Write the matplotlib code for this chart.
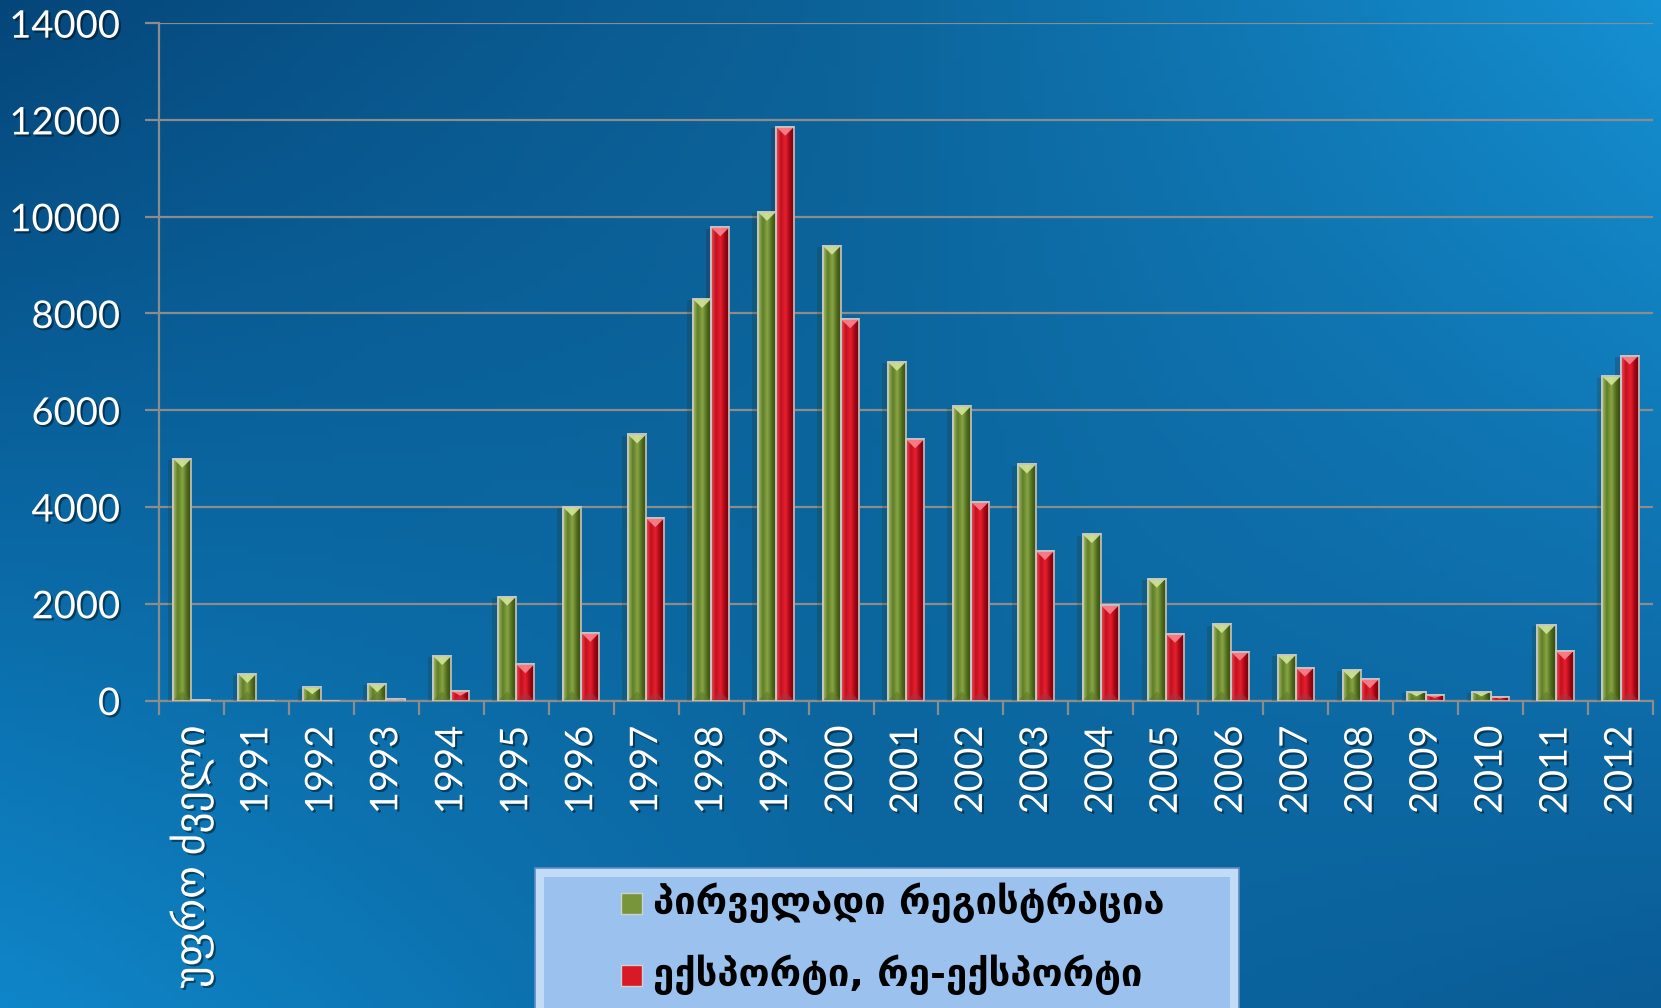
import numpy as np
import matplotlib.pyplot as plt
import matplotlib.patheffects as pe
from matplotlib.colors import LinearSegmentedColormap, to_rgb
from matplotlib.patches import Rectangle, Polygon

plt.rcParams['font.family'] = ['Lato', 'DejaVu Sans']

categories = ['უფრო ძველი', '1991', '1992', '1993', '1994', '1995', '1996',
              '1997', '1998', '1999', '2000', '2001', '2002', '2003', '2004',
              '2005', '2006', '2007', '2008', '2009', '2010', '2011', '2012']
primary = [5000, 550, 270, 350, 920, 2150, 4000, 5500, 8300, 10100, 9400,
           7000, 6080, 4880, 3440, 2520, 1580, 940, 630, 180, 180, 1560, 6700]
export = [20, 0, 0, 30, 200, 750, 1400, 3770, 9780, 11860, 7880,
          5400, 4110, 3090, 1970, 1380, 1010, 680, 440, 110, 80, 1030, 7130]
series_names = ['პირველადი რეგისტრაცია', 'ექსპორტი, რე-ექსპორტი']
yticks = [0, 2000, 4000, 6000, 8000, 10000, 12000, 14000]

W, H = 1661, 1008
fig = plt.figure(figsize=(W / 100, H / 100), dpi=100)

# background: four-corner blue blend
bg = fig.add_axes([0, 0, 1, 1], zorder=-5)
tl, tr = np.array(to_rgb('#05467a')), np.array(to_rgb('#1590d2'))
bl, br = np.array(to_rgb('#0f86c9')), np.array(to_rgb('#0a5c96'))
u = np.linspace(0, 1, 200)[None, :, None]
v = np.linspace(0, 1, 120)[:, None, None]
img = (1 - v) * ((1 - u) * tl + u * tr) + v * ((1 - u) * bl + u * br)
img = img * (0.92 + 0.08 * np.abs(u - 0.5) * 2)
bg.imshow(np.clip(img, 0, 1), aspect='auto', extent=[0, 1, 0, 1])
bg.axis('off')

ax = fig.add_axes([0.0957, 0.305, 0.8995, 0.672])
ax.set_facecolor('none')

grey = '#8c8c8c'
shadow = [pe.SimplePatchShadow(offset=(-4, -1), alpha=0.2), pe.Normal()]
green_cmap = LinearSegmentedColormap.from_list(
    'g', ['#a6bd66', '#5f7d25', '#88a646', '#4d691b', '#33470f'])
red_cmap = LinearSegmentedColormap.from_list(
    'r', ['#f0505c', '#c20f1d', '#e6202f', '#9e0612', '#6a000a'])
grad = np.linspace(0, 1, 64)[None, :]

bw = 0.28
x = np.arange(len(categories))
px = 14000 / (0.672 * H)  # data units per pixel in y

def draw_bars(xpos, vals, cmap, tip, base):
    bars = ax.bar(xpos, vals, bw, color=cmap(0.4), edgecolor='#c4c4c4',
                  linewidth=1.2, zorder=3, path_effects=shadow)
    for b, h in zip(bars, vals):
        if h <= 0:
            continue
        x0 = b.get_x()
        im = ax.imshow(grad, cmap=cmap, aspect='auto', zorder=3.5,
                       extent=[x0, x0 + bw, 0, h], interpolation='bilinear')
        im.set_clip_path(b)
        d = min(9 * px, h / 2)
        ax.add_patch(Polygon([[x0, h], [x0 + bw, h], [x0 + bw / 2, h - d]],
                             closed=True, facecolor=tip, edgecolor='none',
                             alpha=0.85, zorder=4))
        ax.add_patch(Polygon([[x0, 0], [x0 + bw, 0], [x0 + bw / 2, d]],
                             closed=True, facecolor=base, edgecolor='none',
                             alpha=0.6, zorder=4))
        ax.add_patch(Rectangle((x0, 0), bw, h, facecolor='none',
                               edgecolor='#c8c8c8', linewidth=1.2, zorder=4.5))
    return bars

draw_bars(x - bw / 2, primary, green_cmap, '#d8eaa0', '#5f7a2a')
draw_bars(x + bw / 2, export, red_cmap, '#ff8a94', '#b03040')

ax.set_xlim(-0.5, len(categories) - 0.5)
ax.set_ylim(0, 14000)
ax.set_yticks(yticks)
ax.yaxis.grid(True, color=grey, linewidth=1.6)
ax.set_axisbelow(True)
for s in ['top', 'right']:
    ax.spines[s].set_visible(False)
ax.spines['left'].set_color(grey)
ax.spines['bottom'].set_color(grey)
ax.spines['left'].set_linewidth(1.6)
ax.spines['bottom'].set_linewidth(1.6)

txt_shadow = [pe.withSimplePatchShadow(offset=(1.5, -1.5), alpha=0.45,
                                       shadow_rgbFace='black')]
ax.tick_params(axis='y', length=10, width=1.6, color=grey, direction='out',
               labelsize=27.5, labelcolor='white', pad=18)
ax.set_xticks(x)
ax.set_xticklabels(categories, rotation=90, va='top', ha='center')
ax.set_xticks(np.arange(-0.5, len(categories), 1), minor=True)
ax.tick_params(axis='x', which='major', length=0, labelsize=27.5,
               labelcolor='white', pad=18)
ax.tick_params(axis='x', which='minor', length=10, width=1.6, color=grey,
               direction='out')
ax.get_xticklabels()[0].set_fontsize(30)
for t in ax.get_xticklabels() + ax.get_yticklabels():
    t.set_path_effects(txt_shadow)

# legend panel
lx0, lx1, ly1 = 535 / W, 1239 / W, 1 - 868 / H
fig.patches.append(Rectangle((lx0, -0.02), lx1 - lx0, ly1 + 0.02,
                             transform=fig.transFigure, facecolor='#c2dbf6',
                             edgecolor='#5f8cc4', linewidth=1.2, zorder=5))
bx, by = 9 / W, 9 / H
fig.patches.append(Rectangle((lx0 + bx, -0.02), lx1 - lx0 - 2 * bx,
                             ly1 + 0.02 - by, transform=fig.transFigure,
                             facecolor='#9bc2ee', edgecolor='none', zorder=5.1))
for i, (name, cm) in enumerate(zip(series_names, [green_cmap, red_cmap])):
    yc = 1 - (903 + 72 * i) / H
    sq = 21
    fig.patches.append(Rectangle((621 / W, yc - sq / 2 / H), sq / W, sq / H,
                                 transform=fig.transFigure, facecolor=cm(0.4),
                                 edgecolor='#d0d0d0', linewidth=1, zorder=6))
    fig.text(653 / W, yc, name, color='black', fontsize=27.5, va='center',
             ha='left', family='DejaVu Sans', weight='bold', zorder=7)

fig.savefig('out.png', dpi=100)
